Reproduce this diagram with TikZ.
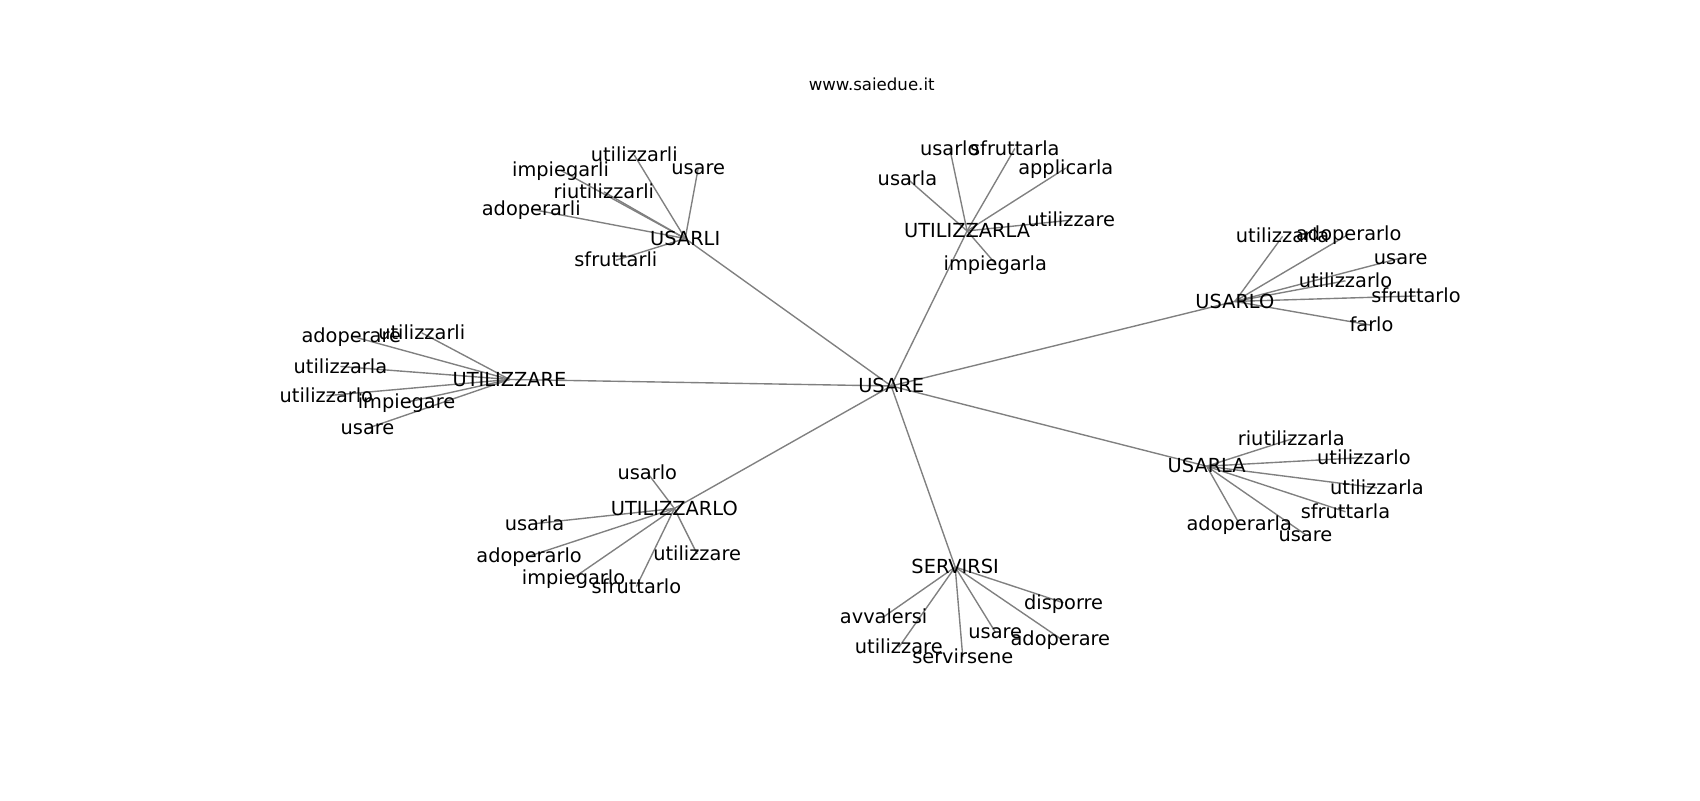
\documentclass[tikz,border=0pt]{standalone}
\usepackage{fontspec}
\setmainfont{DejaVu Sans}
\usetikzlibrary{backgrounds}
\def\myunit{0.27538mm}
\tikzset{
semithick,
my label/.style={inner sep=0pt,text height=1.2em,text depth=0.24em,
  font=\fontsize{14}{17}\selectfont},
my title/.style={my label,font=\fontsize{12}{14}\selectfont},
my edge/.style={draw=gray,line width=1pt},
word graph/.style={
  x=\myunit,y=-\myunit,
  every node/.style={my label}
}
}
% leaves: name/parent/x/y/text
\def\leaflist{
  li1/li/585/143/utilizzarli, li2/li/644/155/usare,
  li3/li/517/157/impiegarli, li4/li/557/177/riutilizzarli,
  li5/li/490/193/adoperarli, li6/li/568/240/sfruttarli,
  zla1/zla/876/137/usarlo, zla2/zla/936/137/sfruttarla,
  zla3/zla/983/155/applicarla, zla4/zla/837/165/usarla,
  zla5/zla/988/203/utilizzare, zla6/zla/918/243/impiegarla,
  lo1/lo/1183/218/utilizzarla, lo2/lo/1244/216/adoperarlo,
  lo3/lo/1292/238/usare, lo4/lo/1241/259/utilizzarlo,
  lo5/lo/1306/273/sfruttarlo, lo6/lo/1265/300/farlo,
  zre1/zre/324/310/adoperare, zre2/zre/389/307/utilizzarli,
  zre3/zre/314/338/utilizzarla, zre4/zre/301/365/utilizzarlo,
  zre5/zre/375/371/impiegare, zre6/zre/339/395/usare,
  la1/la/1191/405/riutilizzarla, la2/la/1258/422/utilizzarlo,
  la3/la/1270/450/utilizzarla, la4/la/1241/472/sfruttarla,
  la5/la/1143/483/adoperarla, la6/la/1204/493/usare,
  zlo1/zlo/597/436/usarlo, zlo2/zlo/493/483/usarla,
  zlo3/zlo/488/513/adoperarlo, zlo4/zlo/643/511/utilizzare,
  zlo5/zlo/529/533/impiegarlo, zlo6/zlo/587/541/sfruttarlo,
  srv1/srv/981/556/disporre, srv2/srv/815/569/avvalersi,
  srv3/srv/918/583/usare, srv4/srv/978/589/adoperare,
  srv5/srv/829/597/utilizzare, srv6/srv/888/606/servirsene%
}
\begin{document}
\begin{tikzpicture}[word graph]
\useasboundingbox (0,0) rectangle (1568,737.9);
\node[my title] (title) at (804,77) {www.saiedue.it};
\node (c) at (822,356) {USARE};
\node (li) at (632,220) {USARLI};
\node (zla) at (892,213) {UTILIZZARLA};
\node (lo) at (1139,278) {USARLO};
\node (zre) at (470,350) {UTILIZZARE};
\node (la) at (1113,430) {USARLA};
\node (zlo) at (622,469) {UTILIZZARLO};
\node (srv) at (881,523) {SERVIRSI};
\foreach \n/\p/\x/\y/\t in \leaflist
  \node (\n) at (\x,\y) {\t};
\begin{scope}[on background layer]
\foreach \h in {li,zla,lo,zre,la,zlo,srv}
  \draw[my edge] (c.center) -- (\h.center);
\foreach \n/\p/\x/\y/\t in \leaflist
  \draw[my edge] (\p.center) -- (\n.center);
\end{scope}
\end{tikzpicture}
\end{document}
